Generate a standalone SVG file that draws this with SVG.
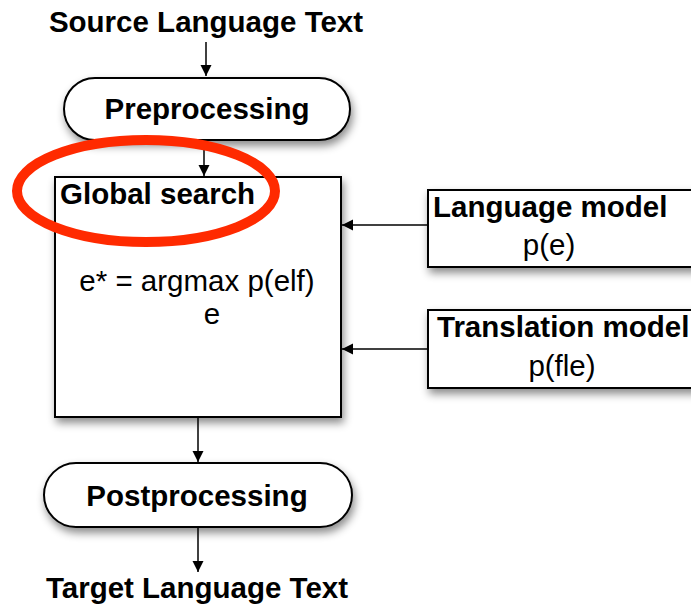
<svg xmlns="http://www.w3.org/2000/svg" width="691" height="607" viewBox="0 0 691 607">
<defs>
<filter id="sh" x="-10%" y="-10%" width="130%" height="140%">
<feDropShadow dx="2" dy="5" stdDeviation="4" flood-color="#000" flood-opacity="0.45"/>
</filter>
<marker id="ah" viewBox="0 0 10 10" refX="10" refY="5" markerWidth="11" markerHeight="12" markerUnits="userSpaceOnUse" orient="auto">
<path d="M0,0 L10,5 L0,10 z" fill="#000"/>
</marker>
</defs>
<style>
text{font-family:"Liberation Sans",Arial,sans-serif;fill:#000}
.b{font-weight:bold;font-size:29.5px}
.n{font-size:29.5px}
.shape{fill:#fff;stroke:#000;stroke-width:2}
.conn{stroke:#000;stroke-width:1.5;fill:none;marker-end:url(#ah)}
</style>
<rect width="691" height="607" fill="#fff"/>
<g id="connectors">
<line class="conn" x1="206" y1="42" x2="206" y2="76"/>
<line class="conn" x1="204" y1="141" x2="204" y2="176"/>
<line class="conn" x1="428" y1="225" x2="342" y2="225"/>
<line class="conn" x1="428" y1="349" x2="342" y2="349"/>
<line class="conn" x1="198" y1="418" x2="198" y2="462"/>
<line class="conn" x1="198" y1="528" x2="198" y2="572"/>
</g>
<g id="source"><text class="b" x="206" y="32" text-anchor="middle">Source Language Text</text></g>
<g id="preprocessing">
<rect class="shape" x="64" y="78" width="286" height="62" rx="31" filter="url(#sh)"/>
<text class="b" x="207" y="119" text-anchor="middle">Preprocessing</text>
</g>
<g id="global-search">
<rect class="shape" x="55" y="177" width="286" height="240" filter="url(#sh)"/>
<text class="b" x="60" y="204">Global search</text>
<text class="n" x="197" y="291" text-anchor="middle">e* = argmax p(elf)</text>
<text class="n" x="212" y="324" text-anchor="middle">e</text>
</g>
<g id="language-model">
<rect class="shape" x="428" y="190" width="280" height="77" filter="url(#sh)"/>
<text class="b" x="433" y="217">Language model</text>
<text class="n" x="549" y="255" text-anchor="middle">p(e)</text>
</g>
<g id="translation-model">
<rect class="shape" x="428" y="310" width="280" height="78" filter="url(#sh)"/>
<text class="b" x="437" y="337">Translation model</text>
<text class="n" x="562" y="376" text-anchor="middle">p(fle)</text>
</g>
<g id="postprocessing">
<rect class="shape" x="44" y="463" width="308" height="64" rx="32" filter="url(#sh)"/>
<text class="b" x="197" y="506" text-anchor="middle">Postprocessing</text>
</g>
<g id="target"><text class="b" x="197" y="598" text-anchor="middle">Target Language Text</text></g>
<g id="highlight">
<ellipse cx="146" cy="191" rx="129" ry="51" fill="none" stroke="#ff2a00" stroke-width="10"/>
</g>
</svg>
